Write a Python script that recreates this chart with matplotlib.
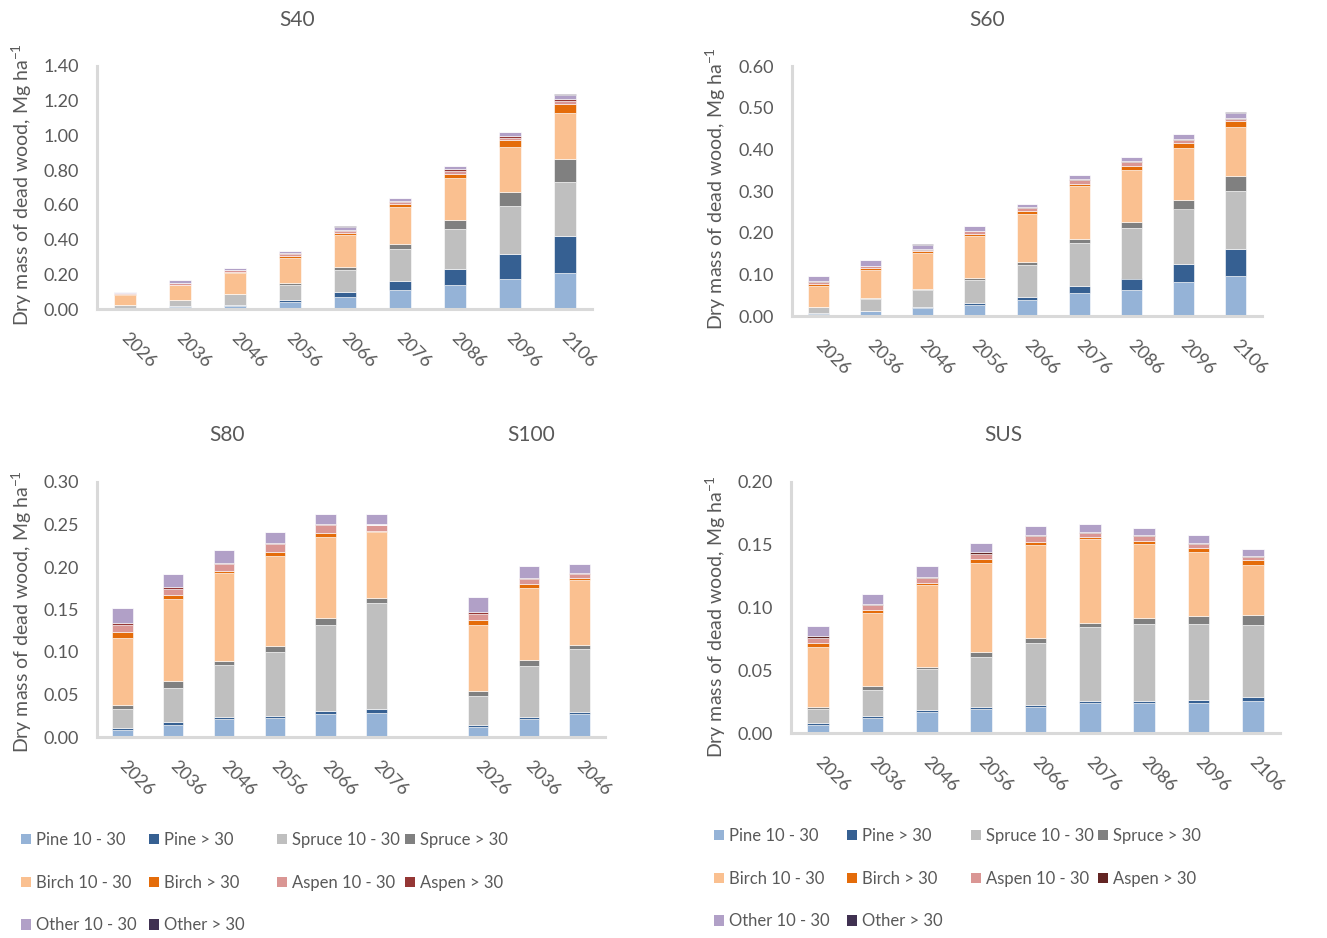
import matplotlib
matplotlib.use("Agg")
import matplotlib.pyplot as plt
from matplotlib.patches import Patch
from matplotlib.transforms import ScaledTranslation

plt.rcParams['font.family'] = ['Lato', 'DejaVu Sans']
plt.rcParams['mathtext.fontset'] = 'custom'
plt.rcParams['mathtext.rm'] = 'Lato'
plt.rcParams['mathtext.it'] = 'Lato:italic'
plt.rcParams['mathtext.bf'] = 'Lato:bold'

# ---------------- data ----------------
series_names = ['Pine 10 - 30', 'Pine > 30', 'Spruce 10 - 30', 'Spruce > 30',
                'Birch 10 - 30', 'Birch > 30', 'Aspen 10 - 30', 'Aspen > 30',
                'Other 10 - 30', 'Other > 30']
years = ['2026', '2036', '2046', '2056', '2066', '2076', '2086', '2096', '2106']
years_s80 = ['2026', '2036', '2046', '2056', '2066', '2076']
years_s100 = ['2026', '2036', '2046']

# S40
s40_pine10   = [0.005, 0.013, 0.019, 0.042, 0.069, 0.110, 0.139, 0.175, 0.210]
s40_pine30   = [0.001, 0.002, 0.005, 0.012, 0.027, 0.052, 0.091, 0.143, 0.208]
s40_spruce10 = [0.017, 0.035, 0.060, 0.085, 0.129, 0.181, 0.233, 0.277, 0.312]
s40_spruce30 = [0.002, 0.003, 0.004, 0.010, 0.019, 0.029, 0.048, 0.081, 0.133]
s40_birch10  = [0.058, 0.085, 0.117, 0.146, 0.181, 0.214, 0.241, 0.256, 0.264]
s40_birch30  = [0.004, 0.003, 0.007, 0.008, 0.012, 0.019, 0.025, 0.040, 0.054]
s40_aspen10  = [0.003, 0.008, 0.010, 0.012, 0.015, 0.013, 0.019, 0.015, 0.019]
s40_aspen30  = [0.002, 0.001, 0.002, 0.005, 0.006, 0.006, 0.008, 0.012, 0.010]
s40_other10  = [0.006, 0.015, 0.012, 0.015, 0.017, 0.015, 0.019, 0.019, 0.023]
s40_other30  = [0.000, 0.000, 0.001, 0.001, 0.001, 0.001, 0.001, 0.002, 0.003]

# S60
s60_pine10   = [0.006, 0.012, 0.020, 0.027, 0.038, 0.056, 0.062, 0.081, 0.096]
s60_pine30   = [0.002, 0.001, 0.001, 0.004, 0.008, 0.017, 0.028, 0.044, 0.065]
s60_spruce10 = [0.013, 0.027, 0.042, 0.056, 0.077, 0.103, 0.122, 0.133, 0.138]
s60_spruce30 = [0.001, 0.003, 0.003, 0.004, 0.006, 0.009, 0.013, 0.021, 0.036]
s60_birch10  = [0.051, 0.068, 0.085, 0.102, 0.117, 0.127, 0.126, 0.125, 0.118]
s60_birch30  = [0.005, 0.004, 0.004, 0.004, 0.005, 0.004, 0.009, 0.012, 0.014]
s60_aspen10  = [0.004, 0.005, 0.004, 0.006, 0.008, 0.010, 0.009, 0.007, 0.007]
s60_aspen30  = [0.001, 0.001, 0.002, 0.002, 0.002, 0.002, 0.002, 0.002, 0.002]
s60_other10  = [0.013, 0.014, 0.010, 0.010, 0.009, 0.010, 0.010, 0.012, 0.012]
s60_other30  = [0.000, 0.000, 0.001, 0.001, 0.000, 0.000, 0.000, 0.000, 0.001]

# S80
s80_pine10   = [0.008, 0.0145, 0.0215, 0.022, 0.027, 0.028]
s80_pine30   = [0.003, 0.003, 0.002, 0.003, 0.004, 0.005]
s80_spruce10 = [0.022, 0.040, 0.061, 0.075, 0.101, 0.125]
s80_spruce30 = [0.005, 0.008, 0.005, 0.007, 0.0075, 0.006]
s80_birch10  = [0.079, 0.097, 0.103, 0.106, 0.096, 0.077]
s80_birch30  = [0.007, 0.005, 0.003, 0.005, 0.004, 0.0015]
s80_aspen10  = [0.008, 0.007, 0.008, 0.009, 0.0095, 0.007]
s80_aspen30  = [0.002, 0.0015, 0.001, 0.0015, 0.001, 0.0005]
s80_other10  = [0.018, 0.016, 0.015, 0.013, 0.012, 0.012]
s80_other30  = [0.0, 0.0, 0.0, 0.0, 0.0, 0.0]

# S100
s100_pine10   = [0.012, 0.021, 0.0275]
s100_pine30   = [0.0025, 0.003, 0.0025]
s100_spruce10 = [0.034, 0.059, 0.073]
s100_spruce30 = [0.006, 0.0075, 0.0055]
s100_birch10  = [0.077, 0.085, 0.076]
s100_birch30  = [0.006, 0.0045, 0.003]
s100_aspen10  = [0.007, 0.006, 0.0045]
s100_aspen30  = [0.002, 0.0015, 0.001]
s100_other10  = [0.018, 0.014, 0.011]
s100_other30  = [0.0, 0.0, 0.0]

# SUS
sus_pine10   = [0.0063, 0.0120, 0.0166, 0.0192, 0.0208, 0.0237, 0.0240, 0.0242, 0.0258]
sus_pine30   = [0.0013, 0.0013, 0.0016, 0.0016, 0.0013, 0.0016, 0.0018, 0.0024, 0.0032]
sus_spruce10 = [0.0113, 0.0210, 0.0324, 0.0400, 0.0495, 0.0595, 0.0608, 0.0600, 0.0568]
sus_spruce30 = [0.0018, 0.0029, 0.0021, 0.0034, 0.0039, 0.0029, 0.0047, 0.0063, 0.0084]
sus_birch10  = [0.0480, 0.0587, 0.0653, 0.0716, 0.0742, 0.0668, 0.0589, 0.0513, 0.0400]
sus_birch30  = [0.0029, 0.0024, 0.0018, 0.0029, 0.0024, 0.0016, 0.0026, 0.0032, 0.0034]
sus_aspen10  = [0.0040, 0.0037, 0.0037, 0.0042, 0.0047, 0.0034, 0.0040, 0.0032, 0.0029]
sus_aspen30  = [0.0013, 0.0008, 0.0010, 0.0010, 0.0008, 0.0008, 0.0010, 0.0008, 0.0008]
sus_other10  = [0.0087, 0.0079, 0.0082, 0.0076, 0.0071, 0.0066, 0.0058, 0.0063, 0.0053]
sus_other30  = [0.0, 0.0, 0.0, 0.0, 0.0, 0.0, 0.0, 0.0, 0.0]

colors_left = ['#95B3D7', '#366092', '#BFBFBF', '#808080', '#FAC090',
               '#E46C0A', '#DA9694', '#953735', '#B1A0C7', '#403151']
colors_right = ['#95B3D7', '#366092', '#BFBFBF', '#808080', '#FAC090',
                '#E46C0A', '#DA9694', '#632523', '#B1A0C7', '#403151']

S40 = [s40_pine10, s40_pine30, s40_spruce10, s40_spruce30, s40_birch10,
       s40_birch30, s40_aspen10, s40_aspen30, s40_other10, s40_other30]
S60 = [s60_pine10, s60_pine30, s60_spruce10, s60_spruce30, s60_birch10,
       s60_birch30, s60_aspen10, s60_aspen30, s60_other10, s60_other30]
S80 = [s80_pine10, s80_pine30, s80_spruce10, s80_spruce30, s80_birch10,
       s80_birch30, s80_aspen10, s80_aspen30, s80_other10, s80_other30]
S100 = [s100_pine10, s100_pine30, s100_spruce10, s100_spruce30, s100_birch10,
        s100_birch30, s100_aspen10, s100_aspen30, s100_other10, s100_other30]
SUS = [sus_pine10, sus_pine30, sus_spruce10, sus_spruce30, sus_birch10,
       sus_birch30, sus_aspen10, sus_aspen30, sus_other10, sus_other30]

# ---------------- figure ----------------
W, H = 1327, 938
fig = plt.figure(figsize=(W / 100, H / 100), dpi=100)
TXT = '#595959'
AX = '#D9D9D9'
FS = 13


def px_axes(left, right, base, top):
    return fig.add_axes([left / W, 1 - base / H, (right - left) / W, (base - top) / H])


def stack(ax, positions, data, colors):
    bottom = [0.0] * len(positions)
    for vals, c in zip(data, colors):
        ax.bar(positions, vals, width=0.4, bottom=bottom, color=c,
               edgecolor='white', linewidth=0.4)
        bottom = [b + v for b, v in zip(bottom, vals)]


def style(ax, ncat, ymax, ystep, labels, positions):
    ax.set_xlim(-0.5, ncat - 0.5)
    ax.set_ylim(0, ymax)
    nt = int(round(ymax / ystep))
    ax.set_yticks([i * ystep for i in range(nt + 1)])
    ax.set_yticklabels([f'{i * ystep:.2f}' for i in range(nt + 1)])
    for s in ['top', 'right']:
        ax.spines[s].set_visible(False)
    for s in ['left', 'bottom']:
        ax.spines[s].set_color(AX)
        ax.spines[s].set_linewidth(2.2)
    ax.tick_params(axis='both', length=0, labelsize=FS, labelcolor=TXT)
    ax.tick_params(axis='y', pad=13)
    ax.set_xticks(positions)
    ax.set_xticklabels(labels, rotation=-45, ha='left', va='top',
                       rotation_mode='anchor')
    ax.tick_params(axis='x', pad=15)
    off = ScaledTranslation(5 / 100, 0, fig.dpi_scale_trans)
    for lab in ax.get_xticklabels():
        lab.set_transform(lab.get_transform() + off)
    ax.set_facecolor('none')


# S40
ax1 = px_axes(97, 592, 309, 66)
pos9 = list(range(9))
stack(ax1, pos9, S40, colors_left)
style(ax1, 9, 1.4, 0.2, years, pos9)

# S60
ax2 = px_axes(792, 1262, 316, 66)
stack(ax2, pos9, S60, colors_right)
style(ax2, 9, 0.6, 0.1, years, pos9)

# S80 + S100
ax3 = px_axes(97, 605, 737, 482)
pos80 = list(range(6))
pos100 = [7, 8, 9]
stack(ax3, pos80, S80, colors_left)
stack(ax3, pos100, S100, colors_left)
style(ax3, 10, 0.3, 0.05, years_s80 + years_s100, pos80 + pos100)

# SUS
ax4 = px_axes(791, 1280, 733, 482)
stack(ax4, pos9, SUS, colors_right)
style(ax4, 9, 0.2, 0.05, years, pos9)

# titles
for (x, y, t) in [(297, 20, 'S40'), (987, 20, 'S60'), (227, 435, 'S80'),
                  (531, 435, 'S100'), (1003, 435, 'SUS')]:
    fig.text(x / W, 1 - y / H, t, ha='center', va='center', fontsize=15, color=TXT)

# y labels
ylab = 'Dry mass of dead wood, Mg ha$^{\\mathregular{-1}}$'
for (x, y) in [(22, 185), (716, 189), (22, 612), (716, 617)]:
    fig.text(x / W, 1 - y / H, ylab, rotation=90, ha='center', va='center',
             fontsize=14, color=TXT)


# legends (one legend per column)
def col_legend(x, y, idx, colors):
    handles = [Patch(facecolor=colors[i], edgecolor='none') for i in idx]
    labels = [series_names[i] for i in idx]
    fig.legend(handles, labels, loc='upper left',
               bbox_to_anchor=(x / W, 1 - y / H), frameon=False,
               fontsize=12, labelcolor=TXT, handlelength=0.6,
               handleheight=0.6, handletextpad=0.3, labelspacing=1.6,
               borderpad=0, borderaxespad=0)


columns = [[0, 4, 8], [1, 5, 9], [2, 6], [3, 7]]
for cx, idx in zip([21, 149, 277, 405], columns):
    col_legend(cx, 832, idx, colors_left)
for cx, idx in zip([714, 847, 971, 1098], columns):
    col_legend(cx, 828, idx, colors_right)

fig.savefig('out.png', dpi=100)
